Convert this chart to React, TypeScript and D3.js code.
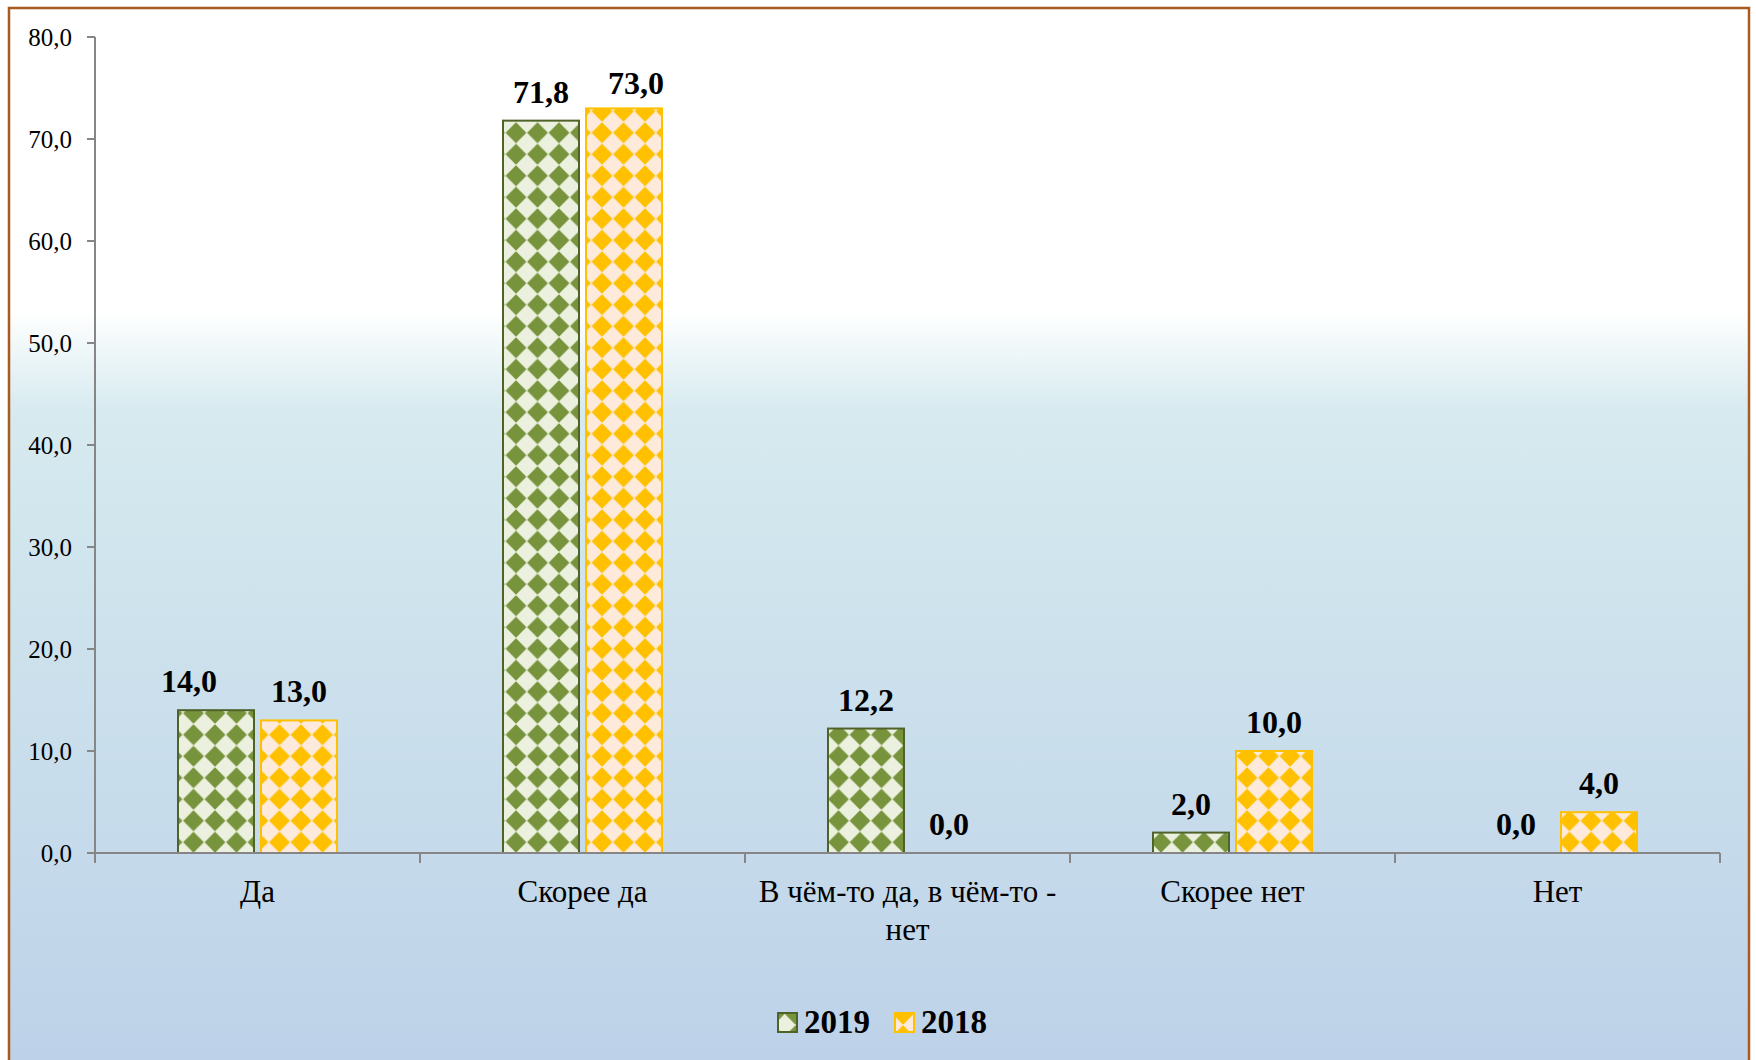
import React from "react";
import * as d3 from "d3";

const categories = ["Да", "Скорее да", "В чём-то да, в чём-то -|нет", "Скорее нет", "Нет"];
const series = ["2019", "2018"];
const values2019 = [14.0, 71.8, 12.2, 2.0, 0.0];
const values2018 = [13.0, 73.0, 0.0, 10.0, 4.0];
const yTicks = [0, 10, 20, 30, 40, 50, 60, 70, 80];

const W = 1756;
const H = 1060;
const FONT = "'Liberation Serif', 'Times New Roman', serif";

const plot = { left: 95, right: 1720, top: 37, bottom: 853 };

// manual label nudges (layout only), keyed by series then category index
const labelNudge: Record<string, [number, number][]> = {
  "2019": [[-27, 0], [0, 0], [0, 0], [0, 0], [0, 0]],
  "2018": [[0, 0], [12, 4], [0, 0], [0, 0], [0, 0]],
};

const styles: Record<string, { bg: string; fg: string; stroke: string; pid: string }> = {
  "2019": { bg: "#EBF1DE", fg: "#77933C", stroke: "#4F6228", pid: "pat2019" },
  "2018": { bg: "#FDEADA", fg: "#FFC000", stroke: "#FFC000", pid: "pat2018" },
};

const fmt = (v: number) => v.toFixed(1).replace(".", ",");

export default function App() {
  const y = d3.scaleLinear().domain([0, 80]).range([plot.bottom, plot.top]);
  const x0 = d3.scaleBand<string>().domain(categories).range([plot.left, plot.right]).paddingInner(0).paddingOuter(0);
  const groupW = x0.bandwidth() * (159 / 325);
  const x1 = d3
    .scaleBand<string>()
    .domain(series)
    .range([-groupW / 2, groupW / 2])
    .paddingInner(0.0843)
    .paddingOuter(0);
  const dataBySeries: Record<string, number[]> = { "2019": values2019, "2018": values2018 };
  const P = 21.5;
  const r = 10.4;

  const boundaries = categories.map((c) => x0(c) as number).concat([plot.right]);

  return (
    <svg
      width={W}
      height={H}
      style={{ position: "absolute", left: 0, top: 0, display: "block" }}
      fontFamily={FONT}
    >
      <defs>
        <linearGradient id="bgGrad" x1="0" y1="0" x2="0" y2="1">
          <stop offset="0" stopColor="#FFFFFF" />
          <stop offset="0.28" stopColor="#FFFFFF" />
          <stop offset="0.375" stopColor="#D6EAEF" />
          <stop offset="1" stopColor="#BCD1E8" />
        </linearGradient>
        {series.map((s) => (
          <pattern
            key={s}
            id={styles[s].pid}
            patternUnits="userSpaceOnUse"
            width={P}
            height={P}
            x={0}
            y={plot.bottom - P / 2}
          >
            <rect width={P} height={P} fill={styles[s].bg} />
            {[
              [0, 0],
              [P, 0],
              [0, P],
              [P, P],
            ].map(([cx, cy], i) => (
              <path
                key={i}
                d={`M${cx - r},${cy} L${cx},${cy - r} L${cx + r},${cy} L${cx},${cy + r} Z`}
                fill={styles[s].fg}
              />
            ))}
          </pattern>
        ))}
      </defs>

      <rect x={9} y={8} width={1740} height={1080} fill="url(#bgGrad)" stroke="#A95A1E" strokeWidth={2.5} />

      {/* bars */}
      {categories.map((c, ci) => {
        const cx = (x0(c) as number) + x0.bandwidth() / 2;
        return (
          <g key={c}>
            {series.map((s) => {
              const v = dataBySeries[s][ci];
              const bx = cx + (x1(s) as number);
              const bw = x1.bandwidth();
              const top = y(v);
              const [ndx, ndy] = labelNudge[s][ci];
              return (
                <g key={s}>
                  {v > 0 && (
                    <rect
                      x={bx}
                      y={top}
                      width={bw}
                      height={plot.bottom - top}
                      fill={`url(#${styles[s].pid})`}
                      stroke={styles[s].stroke}
                      strokeWidth={2}
                    />
                  )}
                  <text
                    x={bx + bw / 2 + ndx}
                    y={top - 18 + ndy}
                    textAnchor="middle"
                    fontWeight="bold"
                    fontSize={32}
                    fill="#000"
                  >
                    {fmt(v)}
                  </text>
                </g>
              );
            })}
          </g>
        );
      })}

      {/* y axis */}
      <line x1={plot.left} x2={plot.left} y1={plot.top} y2={plot.bottom + 10} stroke="#868686" strokeWidth={2} />
      {yTicks.map((t) => (
        <g key={t}>
          <line x1={plot.left - 8} x2={plot.left} y1={y(t)} y2={y(t)} stroke="#868686" strokeWidth={2} />
          <text x={72} y={y(t)} dy="0.35em" textAnchor="end" fontSize={25} fill="#000">
            {fmt(t)}
          </text>
        </g>
      ))}

      {/* x axis */}
      <line x1={plot.left} x2={plot.right} y1={plot.bottom} y2={plot.bottom} stroke="#868686" strokeWidth={2} />
      {boundaries.map((b, i) => (
        <line key={i} x1={b} x2={b} y1={plot.bottom} y2={plot.bottom + 10} stroke="#868686" strokeWidth={2} />
      ))}
      {categories.map((c) => {
        const cx = (x0(c) as number) + x0.bandwidth() / 2;
        const lines = c.split("|");
        return (
          <text key={c} x={cx} y={902} textAnchor="middle" fontSize={31} fill="#000">
            {lines.map((l, i) => (
              <tspan key={i} x={cx} dy={i === 0 ? 0 : 37.5}>
                {l}
              </tspan>
            ))}
          </text>
        );
      })}

      {/* legend */}
      {series.map((s, i) => {
        const lx = i === 0 ? 778 : 895;
        return (
          <g key={s}>
            <rect x={lx} y={1013} width={19} height={19} fill={`url(#${styles[s].pid})`} stroke={styles[s].stroke} strokeWidth={2} />
            <text x={lx + 26} y={1033} fontWeight="bold" fontSize={33} fill="#000">
              {s}
            </text>
          </g>
        );
      })}
    </svg>
  );
}
